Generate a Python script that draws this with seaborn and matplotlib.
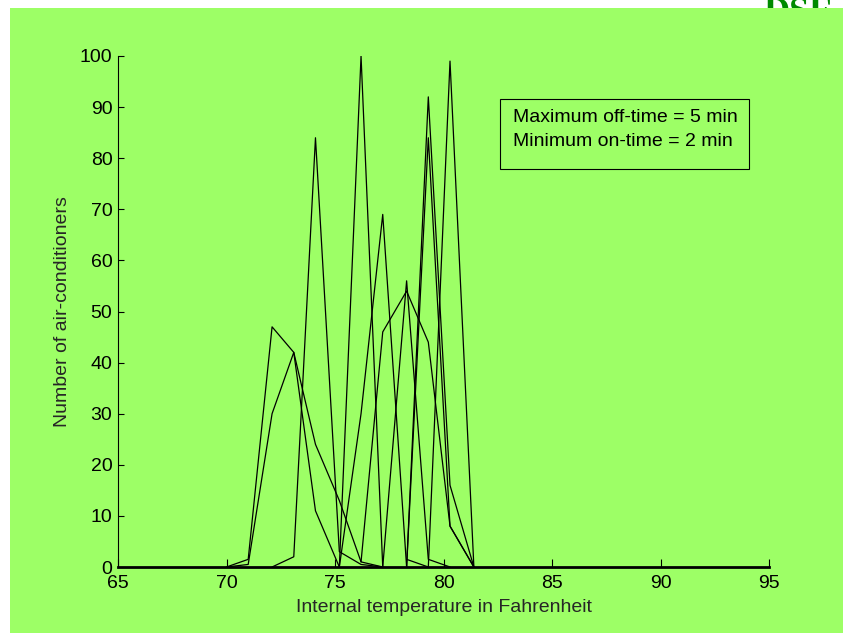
import matplotlib
matplotlib.use("Agg")
import matplotlib.pyplot as plt
from matplotlib.patches import Rectangle
import seaborn as sns
import pandas as pd

# ---- data ----
s1_x = [70.0, 71.0, 72.1, 73.1, 74.1, 75.2]
s1_y = [0, 1.5, 47, 42, 11, 0]
s2_x = [70.0, 71.0, 72.1, 73.1, 74.1, 75.2, 76.2, 77.2]
s2_y = [0, 0.5, 30, 42, 24, 13, 1, 0]
s3_x = [72.1, 73.1, 74.1, 75.2, 76.2, 77.2]
s3_y = [0, 2, 84, 3, 0.5, 0]
s4_x = [75.2, 76.2, 77.2]
s4_y = [0, 100, 0]
s5_x = [75.2, 76.2, 77.2, 78.3]
s5_y = [0, 30, 69, 0]
s6_x = [76.2, 77.2, 78.3, 79.3, 80.3, 81.4]
s6_y = [1, 46, 54, 44, 8, 0]
s7_x = [77.2, 78.3, 79.3, 80.3]
s7_y = [0, 56, 1.5, 0]
s8_x = [78.3, 79.3, 80.3, 81.4]
s8_y = [0, 92, 16, 0]
s9_x = [78.3, 79.3, 80.3, 81.4]
s9_y = [0, 84, 8, 0]
s10_x = [78.3, 79.3, 80.3, 81.4]
s10_y = [1.5, 0, 99, 0]

series = [(s1_x, s1_y), (s2_x, s2_y), (s3_x, s3_y), (s4_x, s4_y), (s5_x, s5_y),
          (s6_x, s6_y), (s7_x, s7_y), (s8_x, s8_y), (s9_x, s9_y), (s10_x, s10_y)]

x_ticks = [65, 70, 75, 80, 85, 90, 95]
y_ticks = [0, 10, 20, 30, 40, 50, 60, 70, 80, 90, 100]

GREEN = "#9DFF66"
W, H = 843, 633
FS = 14

sns.set_theme(style="white")
plt.rcParams["font.family"] = ["Liberation Sans", "DejaVu Sans"]

fig = plt.figure(figsize=(W / 100, H / 100), dpi=100)
fig.patch.set_facecolor("white")

# logo text partially hidden behind the green panel
fig.text(763 / W, 1.0 + 3 / H, "DSE", ha="left", va="top", color="#008a00",
         fontsize=26, fontweight="bold", family=["Liberation Serif", "DejaVu Serif"],
         zorder=-3)
fig.patches.append(Rectangle((10 / W, 0), 1, 1 - 8 / H, transform=fig.transFigure,
                             facecolor=GREEN, edgecolor="none", zorder=-2))

ax = fig.add_axes([118 / W, 1 - 567 / H, (769 - 118) / W, (567 - 56) / H])
ax.set_facecolor("none")

for xs, ys in series:
    df = pd.DataFrame({"x": xs, "y": ys})
    sns.lineplot(data=df, x="x", y="y", color="black", linewidth=0.9,
                 estimator=None, sort=False, ax=ax)

ax.set_xlim(65, 95)
ax.set_ylim(0, 100)
ax.set_xticks(x_ticks)
ax.set_yticks(y_ticks)
ax.set_xticklabels([str(t) for t in x_ticks])
ax.set_yticklabels([str(t) for t in y_ticks])
ax.tick_params(axis="x", direction="in", length=5.8, width=0.8, colors="black",
               labelsize=FS, pad=6)
ax.tick_params(axis="y", direction="in", length=4.5, width=0.8, colors="black",
               labelsize=FS, pad=4)
ax.tick_params(axis="both", which="both", bottom=True, left=True)
for side in ["top", "right"]:
    ax.spines[side].set_visible(False)
ax.spines["left"].set_color("black")
ax.spines["left"].set_linewidth(0.8)
ax.spines["bottom"].set_color("black")
ax.spines["bottom"].set_linewidth(2.0)
ax.grid(False)

ax.set_xlabel("Internal temperature in Fahrenheit", fontsize=FS, labelpad=5)
ax.set_ylabel("Number of air-conditioners", fontsize=FS, labelpad=6)

# annotation box
fig.patches.append(Rectangle((500 / W, 1 - 169 / H), (749 - 500) / W, (169 - 99) / H,
                             transform=fig.transFigure, facecolor="none",
                             edgecolor="black", linewidth=0.8, zorder=3))
fig.text(513 / W, 1 - 117 / H, "Maximum off-time = 5 min", ha="left", va="center",
         fontsize=FS, color="black")
fig.text(513 / W, 1 - 142 / H, "Minimum on-time = 2 min", ha="left", va="center",
         fontsize=FS, color="black")

fig.savefig("out.png", dpi=100, facecolor=fig.get_facecolor())
